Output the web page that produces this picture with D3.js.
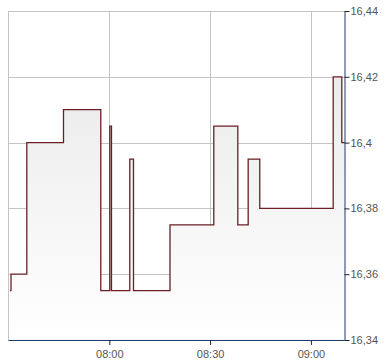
<!DOCTYPE html>
<html><head><meta charset="utf-8">
<script src="https://cdn.jsdelivr.net/npm/d3@7"></script>
<style>body{margin:0;background:#fff}svg{display:block}</style>
</head><body><svg id="c" width="390" height="364"></svg>
<script>
const times = ["07:30:27","07:30:45","07:35:27","07:46:22","07:57:28","08:00:09","08:00:39","08:06:06","08:07:12","08:18:04","08:31:06","08:38:15","08:41:20","08:44:47","09:06:38","09:09:12","09:10:00"];
const prices = [16.355,16.36,16.40,16.41,16.355,16.405,16.355,16.395,16.355,16.375,16.405,16.375,16.395,16.38,16.42,16.40,16.40];
const yTicks = [16.34,16.36,16.38,16.40,16.42,16.44];
const xTicks = ["08:00","08:30","09:00"];
const xDomain = ["07:30","09:10"];

const parse = s => { const p = s.split(":").map(Number); return new Date(2020,0,1,p[0],p[1],p[2]||0); };
const data = times.map((t,i)=>({t:parse(t), v:prices[i]}));
const L=8.5, R=344.5, T=11, B=340;
const svg = d3.select("#c");
const x = d3.scaleTime().domain(xDomain.map(parse)).range([L,R]);
const y = d3.scaleLinear().domain([16.34,16.44]).range([B,T]);
const fmt = v => d3.format(".2f")(v).replace(/0$/,"").replace(".",",");

const defs = svg.append("defs");
const g = defs.append("linearGradient").attr("id","gr").attr("x1",0).attr("x2",0).attr("y1",0).attr("y2",1)
  .attr("gradientUnits","userSpaceOnUse").attr("x1",0).attr("y1",T).attr("x2",0).attr("y2",B);
g.append("stop").attr("offset",0).attr("stop-color","#e6e6e6");
g.append("stop").attr("offset",1).attr("stop-color","#ffffff");

// grid
svg.append("g").selectAll("line").data(yTicks).join("line")
  .attr("x1",L).attr("x2",R).attr("y1",d=>Math.round(y(d))+0.5).attr("y2",d=>Math.round(y(d))+0.5)
  .attr("stroke","#c4c4c4");
svg.append("g").selectAll("line").data(xTicks.map(parse)).join("line")
  .attr("y1",T).attr("y2",B).attr("x1",d=>Math.round(x(d))+0.5).attr("x2",d=>Math.round(x(d))+0.5)
  .attr("stroke","#c4c4c4");
svg.append("line").attr("x1",L).attr("x2",L).attr("y1",T).attr("y2",B).attr("stroke","#c4c4c4");

// area + line
const area = d3.area().x(d=>x(d.t)).y0(B).y1(d=>y(d.v)).curve(d3.curveStepAfter);
const line = d3.line().x(d=>x(d.t)).y(d=>y(d.v)).curve(d3.curveStepAfter);
svg.append("path").datum(data).attr("d",area).attr("fill","url(#gr)");
svg.append("path").datum(data).attr("d",line).attr("fill","none").attr("stroke","#6b1f24").attr("stroke-width",1.3);

// axes
const ax = svg.append("g").attr("transform",`translate(0,${B})`)
  .call(d3.axisBottom(x).tickValues(xTicks.map(parse)).tickFormat(d3.timeFormat("%H:%M")).tickSize(5).tickSizeOuter(0));
ax.select(".domain").attr("stroke","#1f3a68").attr("d",`M${L},0.5H${R}`);
ax.selectAll(".tick line").attr("stroke","#222");
ax.selectAll(".tick text").attr("fill","#555").attr("dy","0.9em").style("font","11px 'Liberation Sans', Arial, sans-serif");

const ay = svg.append("g").attr("transform",`translate(${R},0)`)
  .call(d3.axisRight(y).tickValues(yTicks).tickFormat(fmt).tickSize(5).tickSizeOuter(0).tickPadding(1));
ay.select(".domain").attr("stroke","#1f3a68");
ay.selectAll(".tick line").attr("stroke","#222");
ay.selectAll(".tick text").attr("fill","#555").style("font","11px 'Liberation Sans', Arial, sans-serif");
</script></body></html>
